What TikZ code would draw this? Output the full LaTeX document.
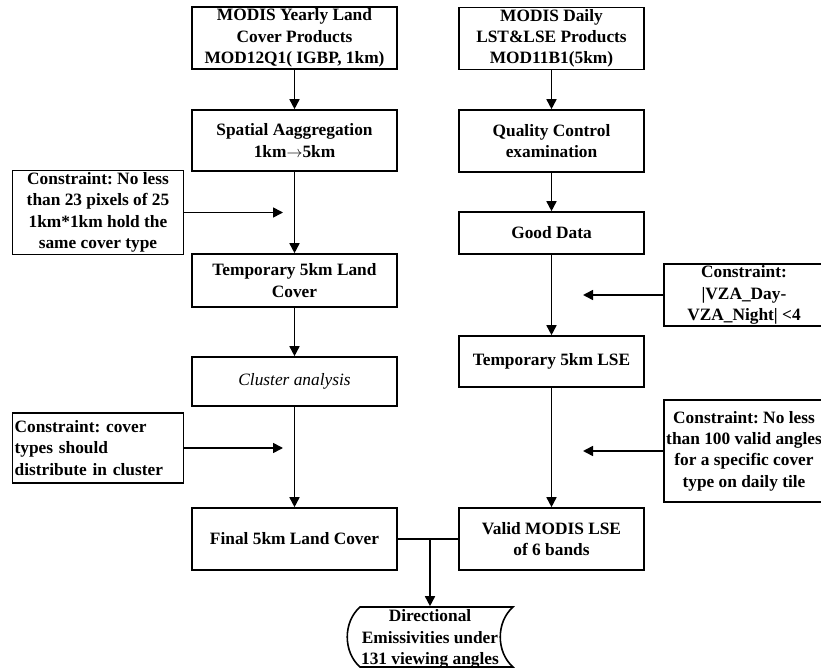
\documentclass[tikz,border=0pt]{standalone}
\usepackage{fontspec}
\setmainfont{Liberation Serif}
\usetikzlibrary{arrows.meta}
\frenchspacing

\tikzset{every picture/.style={line width=1.2pt}}
\tikzset{
  boxtext/.style={font=\fontsize{13}{16}\selectfont\bfseries, align=center, inner sep=1.5pt},
  leftbox/.style={boxtext, draw, minimum width=153.75pt},
  rightbox/.style={boxtext, draw, minimum width=138.75pt},
  flow/.style={-{Triangle[length=7.5pt,width=7.5pt]}},
}

\begin{document}
\begin{tikzpicture}[x=0.75pt,y=0.75pt,yscale=-1,xscale=1]
\useasboundingbox (0,0) rectangle (821,670);
%Shape: Rectangle (left column)
\node[leftbox, minimum height=46.5pt] (yearly) at (294.5,38) {MODIS Yearly Land\\Cover Products\\MOD12Q1( IGBP, 1km)};
\node[leftbox, minimum height=45.75pt] (spatial) at (294.5,140.5) {Spatial Aaggregation\\1km\ensuremath{\rightarrow}5km};
\node[leftbox, minimum height=39.75pt] (tmpland) at (294.5,280.5) {Temporary 5km Land\\Cover};
\node[leftbox, minimum height=36.75pt, font=\fontsize{13}{16}\selectfont\itshape] (cluster) at (294.5,381.5) {Cluster analysis};
\node[leftbox, minimum height=46.5pt] (final) at (294.5,539) {Final 5km Land Cover};
%Shape: Rectangle (right column)
\node[rightbox, minimum height=45.75pt] (daily) at (551.5,38.5) {MODIS Daily\\LST\&LSE Products\\MOD11B1(5km)};
\node[rightbox, minimum height=46.5pt] (quality) at (551.5,141) {Quality Control\\examination};
\node[rightbox, minimum height=31.5pt] (good) at (551.5,233) {Good Data};
\node[rightbox, minimum height=38.25pt] (tmplse) at (551.5,361.5) {Temporary 5km LSE};
\node[rightbox, minimum height=46.5pt] (valid) at (551.5,539) {Valid MODIS LSE\\of 6 bands};
%Shape: Rectangle (constraints)
\node[boxtext, draw, minimum width=128.25pt, minimum height=60.75pt] (consA) at (98,212.5) {Constraint: No less\\than 23 pixels of 25\\1km*1km hold the\\same cover type};
\node[boxtext, draw, align=left, text width=125pt, minimum height=52.5pt] (consB) at (98,448) {Constraint: cover\\types should\\distribute in cluster};
\node[boxtext, draw, minimum width=120pt, minimum height=46.5pt] (consC) at (744,295) {Constraint:\\|VZA\_Day-\\VZA\_Night| <4};
\node[boxtext, draw, minimum width=120pt, minimum height=76.5pt] (consD) at (744,451) {Constraint: No less\\than 100 valid angles\\for a specific cover\\type on daily tile};
%Shape: Stored data
\draw (360,607) -- (513,607) .. controls (496,622) and (496,652) .. (513,667) -- (360,667) .. controls (343,652) and (343,622) .. (360,607) -- cycle ;
% Text Node
\node[boxtext, minimum width=112.5pt, minimum height=45pt] (out) at (430,637) {};
\node[boxtext] (outtext) at (430,639) {Directional\\Emissivities under\\131 viewing angles};
%Arrows
\draw[flow] (yearly) -- (spatial);
\draw[flow] (spatial) -- (tmpland);
\draw[flow] (tmpland) -- (cluster);
\draw[flow] (cluster) -- (final);
\draw[flow] (daily) -- (quality);
\draw[flow] (quality) -- (good);
\draw[flow] (good) -- (tmplse);
\draw[flow] (tmplse) -- (valid);
\coordinate (toA) at (283,212.5);
\coordinate (toB) at (283,448);
\coordinate (toC) at (583,295);
\coordinate (toD) at (583,451);
\draw[flow] (consA.east |- toA) -- (toA);
\draw[flow] (consB.east |- toB) -- (toB);
\draw[flow] (consC.west |- toC) -- (toC);
\draw[flow] (consD.west |- toD) -- (toD);
\draw (final.east) -- (valid.west);
\coordinate (join) at (out.north |- final.east);
\draw[flow] (join) -- (out.north);
\end{tikzpicture}
\end{document}
